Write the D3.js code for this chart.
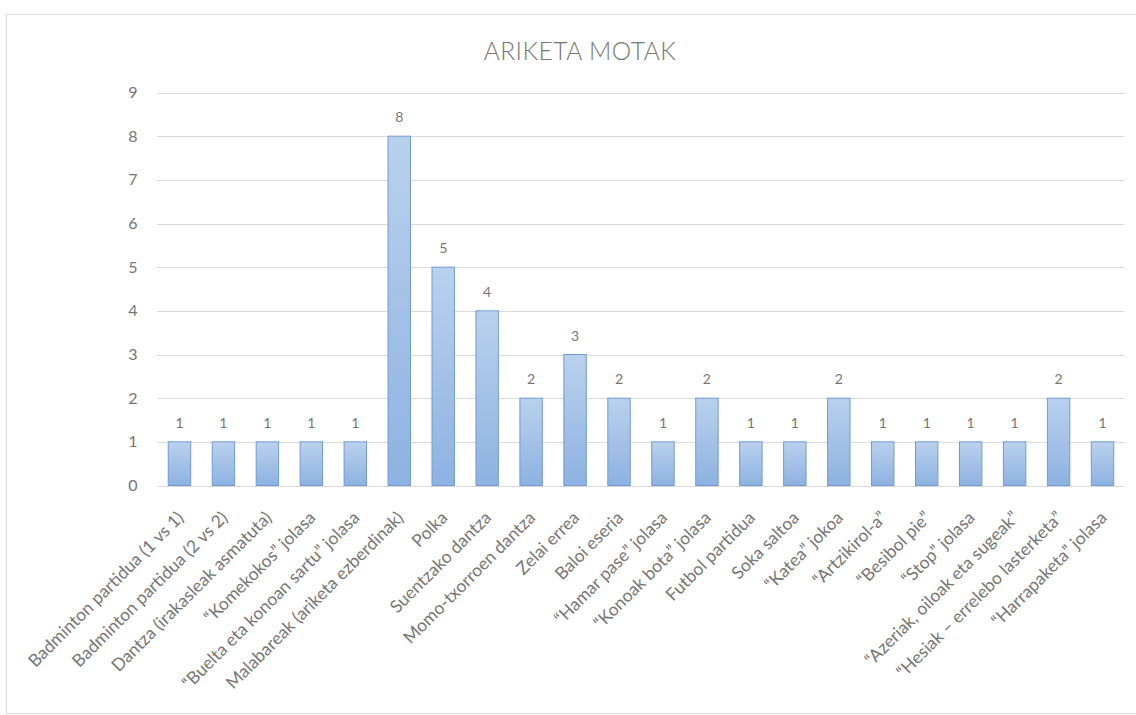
<!DOCTYPE html>
<html>
<head>
<meta charset="utf-8">
<script src="https://cdn.jsdelivr.net/npm/d3@7"></script>
<style>
  html, body { margin: 0; padding: 0; background: #fff; }
  svg { display: block; }
  text { font-family: "Lato", "Open Sans", sans-serif; }
</style>
</head>
<body>
<svg id="chart" width="1136" height="715"></svg>
<script>
const title = "ARIKETA MOTAK";
const categories = [
  "Badminton partidua (1 vs 1)",
  "Badminton partidua (2 vs 2)",
  "Dantza (irakasleak asmatuta)",
  "“Komekokos” jolasa",
  "“Buelta eta konoan sartu” jolasa",
  "Malabareak (ariketa ezberdinak)",
  "Polka",
  "Suentzako dantza",
  "Momo-txorroen dantza",
  "Zelai errea",
  "Baloi eseria",
  "“Hamar pase” jolasa",
  "“Konoak bota” jolasa",
  "Futbol partidua",
  "Soka saltoa",
  "“Katea” jokoa",
  "“Artzikirol-a”",
  "“Besibol pie”",
  "“Stop” jolasa",
  "“Azeriak, oiloak eta sugeak”",
  "“Hesiak – errelebo lasterketa”",
  "“Harrapaketa” jolasa"
];
const values = [1, 1, 1, 1, 1, 8, 5, 4, 2, 3, 2, 1, 2, 1, 1, 2, 1, 1, 1, 1, 2, 1];
const yTicks = [0, 1, 2, 3, 4, 5, 6, 7, 8, 9];

const svg = d3.select("#chart");
const plot = { left: 157.5, right: 1124.5, top: 92.5, bottom: 485.5 };

// outer chart border
svg.append("rect")
  .attr("x", 6.5).attr("y", 14.5)
  .attr("width", 1140).attr("height", 699)
  .attr("fill", "none").attr("stroke", "#d9d9d9").attr("stroke-width", 1);

const x = d3.scaleBand()
  .domain(categories)
  .range([plot.left, plot.right])
  .paddingInner(0.49)
  .paddingOuter(0.245);

const y = d3.scaleLinear().domain([0, 9]).range([plot.bottom, plot.top]);

// gradient for bars
const defs = svg.append("defs");
const grad = defs.append("linearGradient").attr("id", "barGrad")
  .attr("x1", 0).attr("y1", 0).attr("x2", 0).attr("y2", 1);
grad.append("stop").attr("offset", "0%").attr("stop-color", "#bad1ed");
grad.append("stop").attr("offset", "100%").attr("stop-color", "#8db2e1");

// gridlines
svg.append("g")
  .selectAll("line")
  .data(yTicks)
  .join("line")
  .attr("x1", plot.left).attr("x2", plot.right)
  .attr("y1", d => Math.round(y(d)) + 0.5).attr("y2", d => Math.round(y(d)) + 0.5)
  .attr("stroke", "#d9d9d9").attr("stroke-width", 1);

// y axis labels
const yAxis = d3.axisLeft(y).tickValues(yTicks).tickSize(0).tickPadding(0);
const yg = svg.append("g").attr("transform", `translate(${plot.left - 20},0)`).call(yAxis);
yg.select(".domain").remove();
yg.selectAll("text")
  .attr("fill", "#767676")
  .style("font-size", "16px")
  .style("font-family", "Lato, 'Open Sans', sans-serif");

// bars
svg.append("g")
  .selectAll("rect")
  .data(values)
  .join("rect")
  .attr("x", (d, i) => x(categories[i]))
  .attr("y", d => y(d))
  .attr("width", x.bandwidth())
  .attr("height", d => y(0) - y(d))
  .attr("fill", "url(#barGrad)")
  .attr("stroke", "#6f9bd1")
  .attr("stroke-width", 1);

// data labels
svg.append("g")
  .selectAll("text")
  .data(values)
  .join("text")
  .attr("x", (d, i) => x(categories[i]) + x.bandwidth() / 2)
  .attr("y", d => y(d) - 14)
  .attr("text-anchor", "middle")
  .attr("fill", "#767676")
  .style("font-size", "14px")
  .text(d => d);

// x axis labels
const xAxis = d3.axisBottom(x).tickSize(0).tickPadding(0);
const xg = svg.append("g").attr("transform", `translate(0,${plot.bottom})`).call(xAxis);
xg.select(".domain").remove();
xg.selectAll("text")
  .attr("fill", "#767676")
  .style("font-size", "17.5px")
  .style("font-family", "Lato, 'Open Sans', sans-serif")
  .attr("text-anchor", "end")
  .attr("dy", "0.35em")
  .attr("transform", "translate(1,29) rotate(-45)")
  .attr("y", 0).attr("x", 0);

// title
svg.append("text")
  .attr("x", 580)
  .attr("y", 60)
  .attr("text-anchor", "middle")
  .attr("fill", "#767676")
  .style("font-size", "24.5px")
  .style("font-weight", 300)
  .style("letter-spacing", "0.5px")
  .text(title);
</script>
</body>
</html>
